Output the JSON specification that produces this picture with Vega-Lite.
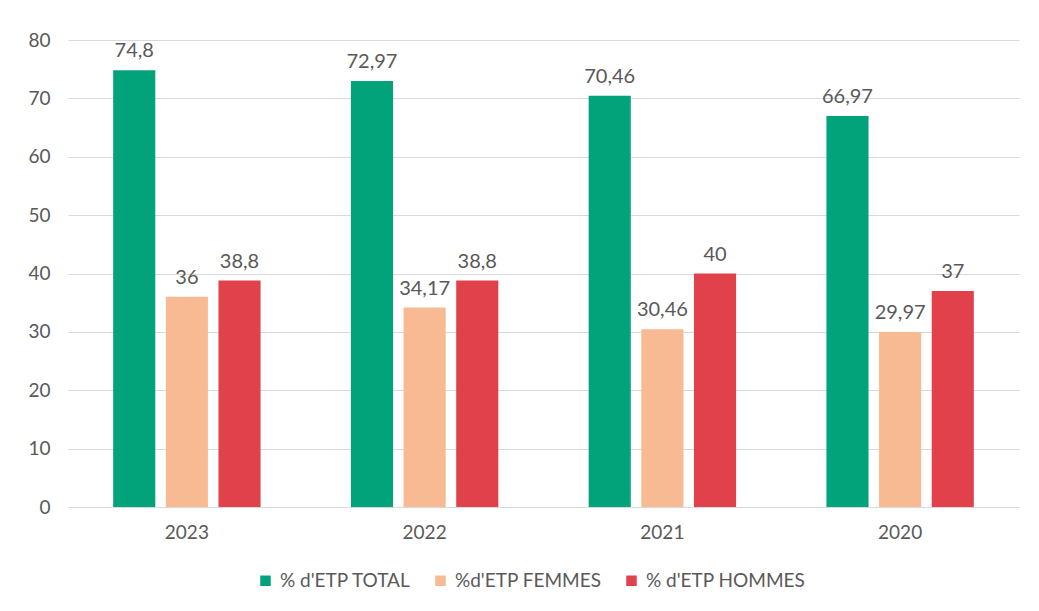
{
  "$schema": "https://vega.github.io/schema/vega-lite/v6.json",
  "autosize": {"type": "none"},
  "width": 951,
  "height": 467,
  "padding": {"left": 68, "top": 40, "right": 20, "bottom": 104},
  "background": "white",
  "config": {
    "locale": {"number": {"decimal": ",", "thousands": " ", "grouping": [3], "currency": ["", " €"]}},
    "font": "Lato",
    "view": {"stroke": null},
    "axis": {"labelFont": "Lato", "labelColor": "#595959", "labelFontSize": 19, "title": null}
  },
  "data": {
    "values": [
      {"annee": "2023", "serie": "% d'ETP TOTAL", "valeur": 74.8},
      {"annee": "2023", "serie": "%d'ETP FEMMES", "valeur": 36},
      {"annee": "2023", "serie": "% d'ETP HOMMES", "valeur": 38.8},
      {"annee": "2022", "serie": "% d'ETP TOTAL", "valeur": 72.97},
      {"annee": "2022", "serie": "%d'ETP FEMMES", "valeur": 34.17},
      {"annee": "2022", "serie": "% d'ETP HOMMES", "valeur": 38.8},
      {"annee": "2021", "serie": "% d'ETP TOTAL", "valeur": 70.46},
      {"annee": "2021", "serie": "%d'ETP FEMMES", "valeur": 30.46},
      {"annee": "2021", "serie": "% d'ETP HOMMES", "valeur": 40},
      {"annee": "2020", "serie": "% d'ETP TOTAL", "valeur": 66.97},
      {"annee": "2020", "serie": "%d'ETP FEMMES", "valeur": 29.97},
      {"annee": "2020", "serie": "% d'ETP HOMMES", "valeur": 37}
    ]
  },
  "encoding": {
    "x": {
      "field": "annee", "type": "nominal",
      "sort": ["2023", "2022", "2021", "2020"],
      "scale": {"paddingInner": 0.38, "paddingOuter": 0.19},
      "axis": {"labelAngle": 0, "ticks": false, "domainColor": "#d9d9d9", "domainWidth": 1, "labelPadding": 16}
    },
    "xOffset": {
      "field": "serie", "type": "nominal",
      "sort": ["% d'ETP TOTAL", "%d'ETP FEMMES", "% d'ETP HOMMES"],
      "scale": {"paddingInner": 0.2, "paddingOuter": 0}
    },
    "y": {
      "field": "valeur", "type": "quantitative",
      "scale": {"domain": [0, 80], "nice": false},
      "axis": {"values": [0, 10, 20, 30, 40, 50, 60, 70, 80], "domain": false, "ticks": false, "gridColor": "#d9d9d9", "gridWidth": 1, "labelPadding": 18}
    }
  },
  "layer": [
    {
      "mark": {"type": "bar"},
      "encoding": {
        "color": {
          "field": "serie", "type": "nominal",
          "sort": ["% d'ETP TOTAL", "%d'ETP FEMMES", "% d'ETP HOMMES"],
          "scale": {"domain": ["% d'ETP TOTAL", "%d'ETP FEMMES", "% d'ETP HOMMES"], "range": ["#02A37A", "#F8BA92", "#E0414B"]},
          "legend": {
            "title": null, "orient": "none", "direction": "horizontal",
            "legendX": 188, "legendY": 531,
            "symbolType": "square", "symbolSize": 110, "symbolStrokeWidth": 0,
            "labelFont": "Lato", "labelFontSize": 19, "labelColor": "#595959",
            "labelOffset": 5, "columnPadding": 20
          }
        }
      }
    },
    {
      "mark": {"type": "text", "baseline": "bottom", "dy": -9, "fontSize": 20, "color": "#595959", "font": "Lato"},
      "encoding": {
        "text": {"field": "valeur", "type": "quantitative", "format": "~g"}
      }
    }
  ]
}
